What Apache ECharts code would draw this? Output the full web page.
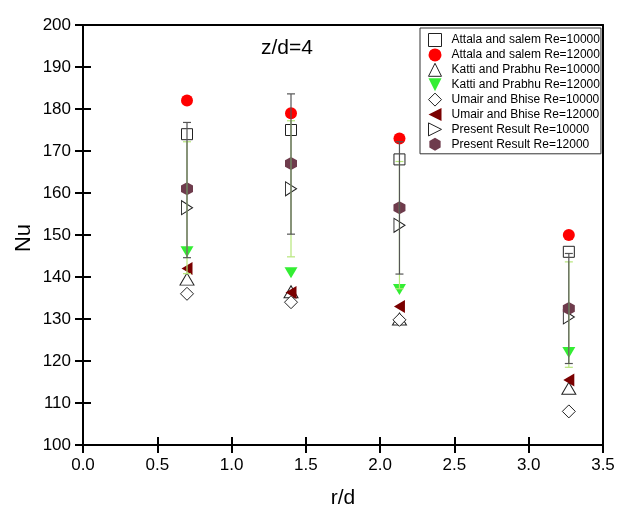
<!DOCTYPE html>
<html>
<head>
<meta charset="utf-8">
<script src="https://cdn.jsdelivr.net/npm/echarts@6/dist/echarts.min.js"></script>
<style>
  html, body { margin: 0; padding: 0; background: #fff; }
  #chart { width: 640px; height: 522px; }
</style>
</head>
<body>
<div id="chart"></div>
<script>
// r/d positions
var rd = [0.7, 1.4, 2.13, 3.27];

// Nu values
var attala10 = [174, 175, 168, 146];
var attala12 = [182, 179, 173, 150];
var katti10 = [139.5, 136.5, 130, 113.5];
var katti12 = [146, 141, 137, 122];
var umair10 = [136, 134, 129.8, 108];
var umair12 = [142, 136.3, 133, 115.5];
var present10 = [156.5, 161, 152.3, 130.5];
var present12 = [161, 167, 156.5, 132.5];

// error bars (low / high)
var greenLow = [140.8, 144.8, 137.2, 118.5];
var greenHigh = [172.2, 177.2, 167.5, 143.6];
var grayLow = [144.6, 150.2, 140.7, 119.4];
var grayHigh = [176.8, 183.6, 172.2, 145.6];

var yTicks = [100, 110, 120, 130, 140, 150, 160, 170, 180, 190, 200];

var hexagon = 'path://M0,-1L0.866,-0.5L0.866,0.5L0,1L-0.866,0.5L-0.866,-0.5Z';
var triUp = 'path://M0,-1L1,1L-1,1Z';
var triDown = 'path://M-1,-1L1,-1L0,1Z';
var triLeft = 'path://M-1,0L1,-1L1,1Z';
var triRight = 'path://M1,0L-1,-1L-1,1Z';
var font = 'Liberation Sans';

function pts(ys) {
    return rd.map(function (x, i) { return [x, ys[i]]; });
}
function bars(lo, hi) {
    return rd.map(function (x, i) { return [x, lo[i], hi[i]]; });
}
function errBar(color) {
    return function (params, api) {
        var top = api.coord([api.value(0), api.value(2)]);
        var bot = api.coord([api.value(0), api.value(1)]);
        var st = {stroke: color, lineWidth: 1.2};
        return {
            type: 'group',
            children: [
                {type: 'line', shape: {x1: top[0], y1: top[1], x2: bot[0], y2: bot[1]}, style: st},
                {type: 'line', shape: {x1: top[0] - 4, y1: top[1], x2: top[0] + 4, y2: top[1]}, style: st},
                {type: 'line', shape: {x1: bot[0] - 4, y1: bot[1], x2: bot[0] + 4, y2: bot[1]}, style: st}
            ]
        };
    };
}

var hollow = {color: '#fff', borderColor: '#222', borderWidth: 1, opacity: 1};

var series = [
    {name: 'Attala and salem Re=10000', type: 'scatter', symbol: 'rect', symbolSize: 11,
        itemStyle: hollow, data: pts(attala10)},
    {name: 'Attala and salem Re=12000', type: 'scatter', symbol: 'circle', symbolSize: 12,
        itemStyle: {color: '#ff0000', opacity: 1}, data: pts(attala12)},
    {name: 'Katti and Prabhu Re=10000', type: 'scatter', symbol: triUp, symbolSize: [14, 12],
        itemStyle: hollow, data: pts(katti10)},
    {name: 'Katti and Prabhu Re=12000', type: 'scatter', symbol: triDown, symbolSize: [13, 11],
        itemStyle: {color: '#33ee33', opacity: 1}, data: pts(katti12)},
    {name: 'Umair and Bhise Re=10000', type: 'scatter', symbol: 'diamond', symbolSize: 13,
        itemStyle: hollow, data: pts(umair10)},
    {name: 'Umair and Bhise Re=12000', type: 'scatter', symbol: triLeft, symbolSize: [11, 13],
        itemStyle: {color: '#7a0000', opacity: 1}, data: pts(umair12)},
    {name: 'Present Result Re=10000', type: 'scatter', symbol: triRight, symbolSize: [11, 14],
        itemStyle: hollow, data: pts(present10)},
    {name: 'Present Result Re=12000', type: 'scatter', symbol: hexagon, symbolSize: [12, 13],
        itemStyle: {color: '#6e3b4c', opacity: 1}, data: pts(present12)},
    {type: 'custom', renderItem: errBar('#b6e67a'), encode: {x: 0, y: [1, 2]},
        data: bars(greenLow, greenHigh), z: 5, silent: true},
    {type: 'custom', renderItem: errBar('#555'), encode: {x: 0, y: [1, 2]},
        data: bars(grayLow, grayHigh), z: 6, silent: true}
];

var axisLine = {show: true, onZero: false, lineStyle: {color: '#000', width: 2}};
var tickStyle = {color: '#000', width: 2};

var chart = echarts.init(document.getElementById('chart'));
chart.setOption({
    backgroundColor: '#fff',
    animation: false,
    textStyle: {fontFamily: font},
    title: {
        text: 'z/d=4', left: 256, top: 33,
        textStyle: {fontFamily: font, fontSize: 21, fontWeight: 'normal', color: '#000'}
    },
    // y axis name, placed by hand so it sits closer to the tick labels
    graphic: [{
        type: 'text', x: 24, y: 238, rotation: Math.PI / 2,
        style: {text: 'Nu', fontFamily: font, fontSize: 22, fill: '#000',
            align: 'center', verticalAlign: 'middle'}
    }],
    legend: {
        orient: 'vertical', left: 420, top: 28,
        padding: [5, 1, 3, 8],
        itemWidth: 13, itemHeight: 13, itemGap: 1.4,
        borderColor: '#333', borderWidth: 1, backgroundColor: '#fff',
        itemStyle: {borderWidth: 1},
        textStyle: {fontFamily: font, fontSize: 12, color: '#000', lineHeight: 13, padding: [0, 0, 0, 5]},
        data: series.slice(0, 8).map(function (s) { return s.name; })
    },
    grid: {left: 83, right: 37, top: 25, bottom: 77},
    xAxis: [
        {type: 'value', min: 0, max: 3.5, interval: 0.5, position: 'bottom',
            name: 'r/d', nameLocation: 'middle', nameGap: 43,
            nameTextStyle: {fontFamily: font, fontSize: 21, color: '#000'},
            axisLine: axisLine, axisTick: {show: true, length: 8, lineStyle: tickStyle},
            axisLabel: {fontFamily: font, fontSize: 17, color: '#000', margin: 12,
                formatter: function (v) { return v.toFixed(1); }},
            splitLine: {show: false}},
        {type: 'value', min: 0, max: 3.5, interval: 0.5, position: 'bottom',
            axisLine: axisLine, axisTick: {show: true, inside: true, length: 8, lineStyle: tickStyle},
            axisLabel: {show: false}, splitLine: {show: false}},
        {type: 'value', min: 0, max: 3.5, interval: 0.5, position: 'top',
            axisLine: axisLine, axisTick: {show: false},
            axisLabel: {show: false}, splitLine: {show: false}}
    ],
    yAxis: [
        {type: 'value', min: yTicks[0], max: yTicks[yTicks.length - 1], interval: 10, position: 'left',
            axisLine: axisLine, axisTick: {show: true, length: 8, lineStyle: tickStyle},
            axisLabel: {fontFamily: font, fontSize: 17, color: '#000', margin: 12},
            splitLine: {show: false}},
        {type: 'value', min: yTicks[0], max: yTicks[yTicks.length - 1], interval: 10, position: 'left',
            axisLine: axisLine, axisTick: {show: true, inside: true, length: 8, lineStyle: tickStyle},
            axisLabel: {show: false}, splitLine: {show: false}},
        {type: 'value', min: yTicks[0], max: yTicks[yTicks.length - 1], interval: 10, position: 'right',
            axisLine: axisLine, axisTick: {show: false},
            axisLabel: {show: false}, splitLine: {show: false}}
    ],
    series: series
});
</script>
</body>
</html>
